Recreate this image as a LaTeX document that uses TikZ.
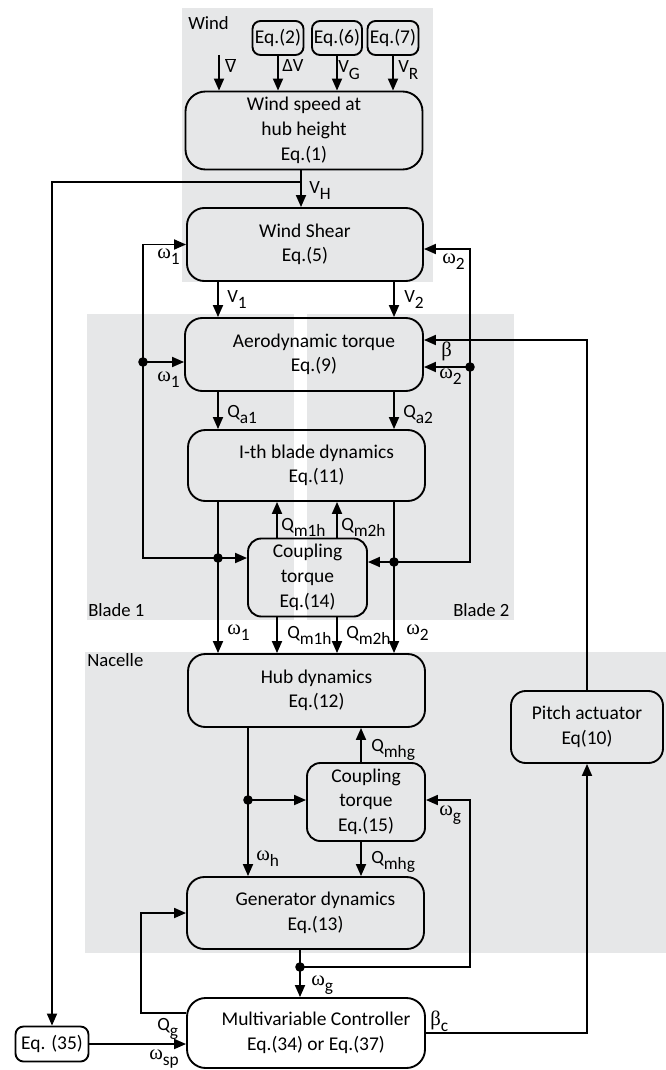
\documentclass[tikz,border=0pt]{standalone}
\usepackage{fontspec}
\setmainfont{Carlito}
\newfontfamily\grkfont{Liberation Serif}
\usetikzlibrary{arrows.meta}
\definecolor{bggray}{HTML}{E6E7E8}
\newcommand\sbx[1]{\raisebox{-5pt}{\fontsize{13}{13}\selectfont #1}}
\newcommand\om{{\grkfont\fontsize{15.5}{15.5}\selectfont ω}}
\newcommand\bet{{\grkfont\fontsize{15.5}{15.5}\selectfont β}}
\newcommand\bt[1]{\begin{tabular}{@{}c@{}}#1\end{tabular}}
\newcommand\rbt[1]{\hspace*{15pt}\bt{#1}}
\begin{document}
\begin{tikzpicture}[x=0.75pt,y=-0.75pt,
  font=\fontsize{14.6}{18.5}\selectfont,
  region/.style={fill=bggray,draw=none},
  box/.style={draw,line width=1.4pt,rounded corners=12pt,inner sep=1.5pt},
  arr/.style={-{Triangle[length=9pt,width=7.5pt]},line width=1.35pt},
  lab/.style={anchor=base west,inner sep=0pt,font=\fontsize{14}{16}\selectfont},
  dot/.style={fill=black}]
\useasboundingbox (0,0) rectangle (666,1070);
% regions
\fill[region] (182,8) rectangle (433,282);
\fill[region] (87,314) rectangle (294,620);
\fill[region] (307,314) rectangle (514,620);
\fill[region] (85,652) rectangle (666,953);
% region titles
\node[lab] (tWind) at (188,30) {Wind};
\node[lab] (tB1) at (88,616) {Blade 1};
\node[lab] (tB2) at (453,616) {Blade 2};
\node[lab] (tNac) at (87,666) {Nacelle};
% boxes
\node[box,rounded corners=6pt,minimum width=51*0.75pt,minimum height=34*0.75pt] (eq2) at (278,38) {Eq.(2)};
\node[box,rounded corners=6pt,minimum width=50*0.75pt,minimum height=34*0.75pt] (eq6) at (337,38) {Eq.(6)};
\node[box,rounded corners=6pt,minimum width=51*0.75pt,minimum height=34*0.75pt] (eq7) at (393,38) {Eq.(7)};
\node[box,rounded corners=15pt,minimum width=237*0.75pt,minimum height=73*0.75pt] (ws) at (304,130.5) {\bt{Wind speed at\\hub height\\Eq.(1)}};
\node[box,rounded corners=13pt,minimum width=236*0.75pt,minimum height=73*0.75pt] (shear) at (305,244.5) {\bt{Wind Shear\\Eq.(5)}};
\node[box,rounded corners=13pt,minimum width=238*0.75pt,minimum height=73*0.75pt] (aero) at (304,354.5) {\rbt{Aerodynamic torque\\Eq.(9)}};
\node[box,rounded corners=13pt,minimum width=237*0.75pt,minimum height=71*0.75pt] (blade) at (306.5,465.5) {\rbt{I-th blade dynamics\\Eq.(11)}};
\node[box,rounded corners=10pt,minimum width=119*0.75pt,minimum height=73*0.75pt] (coup1) at (307.5,577.5) {\bt{Coupling\\torque\\Eq.(14)}};
\node[box,rounded corners=13pt,minimum width=237*0.75pt,minimum height=73*0.75pt] (hub) at (306.5,690.5) {\rbt{Hub dynamics\\Eq.(12)}};
\node[box,rounded corners=11pt,minimum width=152*0.75pt,minimum height=72*0.75pt] (pitch) at (587,727) {\bt{Pitch actuator\\Eq(10)}};
\node[box,rounded corners=10pt,minimum width=118*0.75pt,minimum height=72*0.75pt] (coup2) at (366,802) {\bt{Coupling\\torque\\Eq.(15)}};
\node[box,rounded corners=13pt,minimum width=237*0.75pt,minimum height=72*0.75pt] (gen) at (305.5,913) {\rbt{Generator dynamics\\Eq.(13)}};
\node[box,rounded corners=14pt,minimum width=238*0.75pt,minimum height=70*0.75pt] (ctrl) at (306,1033) {\rbt{Multivariable Controller\\Eq.(34) or Eq.(37)}};
\node[box,rounded corners=6pt,minimum width=73*0.75pt,minimum height=35*0.75pt] (eq35) at (52,1044) {Eq. (35)};
% coordinates
\coordinate (vb) at (219,55);
\coordinate (vh) at (301,182);
\coordinate (xa) at (218,0);
\coordinate (xb) at (394,0);
\coordinate (xc) at (277,0);
\coordinate (xd) at (337,0);
\coordinate (xh) at (248,0);
\coordinate (xq) at (361,0);
\coordinate (yw2) at (0,249);
\coordinate (yb) at (0,340);
\coordinate (d1) at (218,558);
\coordinate (d2) at (394,562);
\coordinate (l1) at (143,362);
\coordinate (r1) at (470,367);
\coordinate (d3) at (248,800);
\coordinate (r2) at (470,800);
\coordinate (d4) at (300,967);
\coordinate (qg) at (141,1013);
% wind inputs
\draw[arr] (vb) -- (vb |- ws.north);
\draw[arr] (eq2.south) -- (eq2.south |- ws.north);
\draw[arr] (eq6.south) -- (eq6.south |- ws.north);
\draw[arr] (eq7.south) -- (eq7.south |- ws.north);
% V_H
\draw[arr] (ws.south -| vh) -- (vh |- shear.north);
\draw[arr] (vh) -| (eq35.north);
% V1 V2
\draw[arr] (shear.south -| xa) -- (aero.north -| xa);
\draw[arr] (shear.south -| xb) -- (aero.north -| xb);
% Qa1 Qa2
\draw[arr] (aero.south -| xa) -- (blade.north -| xa);
\draw[arr] (aero.south -| xb) -- (blade.north -| xb);
% blade outputs
\draw[arr] (blade.south -| xa) -- (hub.north -| xa);
\draw[arr] (blade.south -| xb) -- (hub.north -| xb);
% coupling 14
\draw[arr] (coup1.north -| xc) -- (blade.south -| xc);
\draw[arr] (coup1.north -| xd) -- (blade.south -| xd);
\draw[arr] (coup1.south -| xc) -- (hub.north -| xc);
\draw[arr] (coup1.south -| xd) -- (hub.north -| xd);
% left loop
\draw[arr] (d1) -- (d1 -| coup1.west);
\draw[arr] (d1) -| (l1) |- (shear.west);
\draw[arr] (l1) -- (l1 -| aero.west);
% right loop
\draw[arr] (d2) -- (d2 -| coup1.east);
\draw[arr] (d2) -| (r1) |- (shear.east |- yw2);
\draw[arr] (r1) -- (r1 -| aero.east);
% beta
\draw[arr] (pitch.north) |- (aero.east |- yb);
% nacelle
\draw[arr] (hub.south -| xh) -- (gen.north -| xh);
\draw[arr] (d3) -- (d3 -| coup2.west);
\draw[arr] (coup2.north -| xq) -- (hub.south -| xq);
\draw[arr] (coup2.south -| xq) -- (gen.north -| xq);
\draw[arr] (gen.south -| d4) -- (ctrl.north -| d4);
\draw[arr] (d4) -| (r2) -- (coup2.east |- r2);
% controller
\draw[arr] (ctrl.west |- qg) -- (qg) |- (gen.west);
\draw[arr] (eq35.east) -- (eq35.east -| ctrl.west);
\draw[arr] (ctrl.east) -| (pitch.south);
% dots
\foreach \p in {d1,d2,l1,r1,d3,d4} \fill[dot] (\p) circle (3.6pt);
% labels
\node[lab] (lVb) at (225,73) {\(\overline{\mbox{V}}\)};
\node[lab] (lDV) at (282,72) {ΔV};
\node[lab] (lVG) at (338,73) {V\sbx{G}};
\node[lab] (lVR) at (398,73) {V\sbx{R}};
\node[lab] (lVH) at (309,193) {V\sbx{H}};
\node[lab] (lw1a) at (157,258) {\om\sbx{1}};
\node[lab] (lw2a) at (442,263) {\om\sbx{2}};
\node[lab] (lV1) at (227,302) {V\sbx{1}};
\node[lab] (lV2) at (404,302) {V\sbx{2}};
\node[lab] (lbeta) at (441,356) {\bet};
\node[lab] (lw2b) at (439,378) {\om\sbx{2}};
\node[lab] (lw1b) at (157,381) {\om\sbx{1}};
\node[lab] (lQa1) at (227,417) {Q\sbx{a1}};
\node[lab] (lQa2) at (403,417) {Q\sbx{a2}};
\node[lab] (lQm1u) at (281,530) {Q\sbx{m1h}};
\node[lab] (lQm2u) at (341,530) {Q\sbx{m2h}};
\node[lab] (lw1c) at (227,634) {\om\sbx{1}};
\node[lab] (lQm1d) at (287,638) {Q\sbx{m1h}};
\node[lab] (lQm2d) at (346,638) {Q\sbx{m2h}};
\node[lab] (lw2c) at (406,634) {\om\sbx{2}};
\node[lab] (lQhu) at (371,751) {Q\sbx{mhg}};
\node[lab] (lwg1) at (439,815) {\om\sbx{g}};
\node[lab] (lwh) at (256,860) {\om\sbx{h}};
\node[lab] (lQhd) at (371,863) {Q\sbx{mhg}};
\node[lab] (lwg2) at (311,985) {\om\sbx{g}};
\node[lab] (lQg) at (157,1030) {Q\sbx{g}};
\node[lab] (lwsp) at (149,1059) {\om\sbx{sp}};
\node[lab] (lbc) at (430,1025) {\bet\sbx{c}};
\end{tikzpicture}
\end{document}
